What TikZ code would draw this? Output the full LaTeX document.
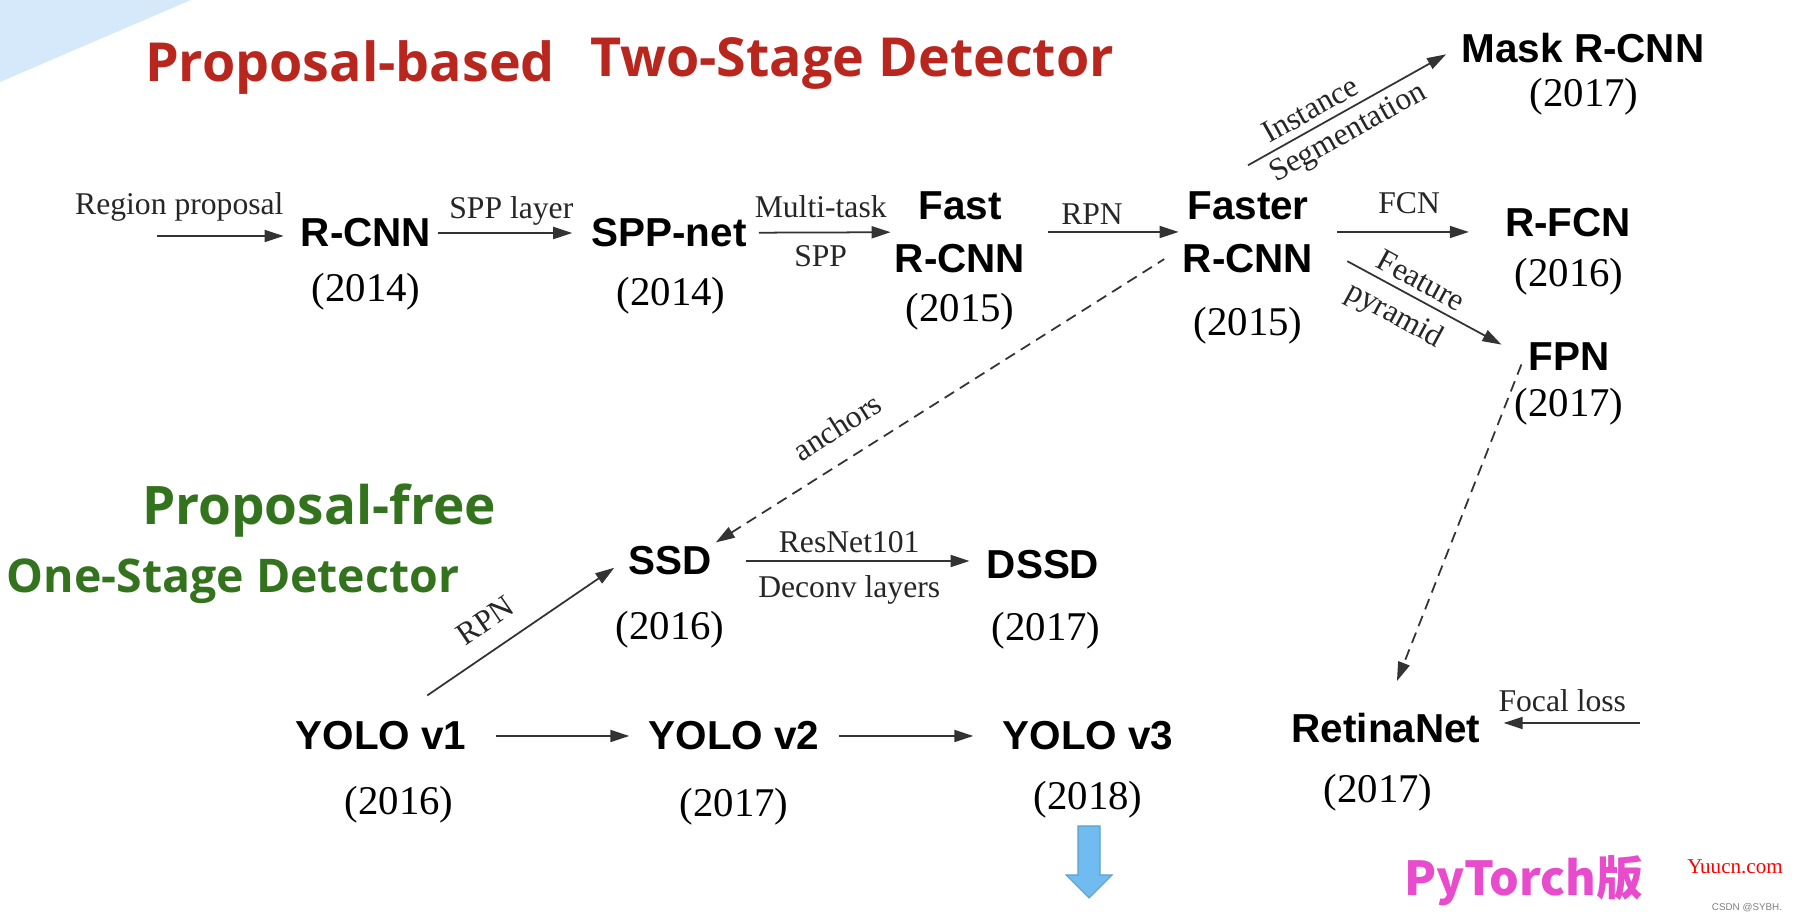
\documentclass[tikz,border=0pt]{standalone}
\usepackage{fontspec}
\setmainfont{Liberation Serif}
\setsansfont{Liberation Sans}
\newfontfamily\titlefont{Open Sans}
\newfontfamily\cjkfont{Noto Sans CJK SC}
\usepackage{xcolor}
\usetikzlibrary{arrows.meta, positioning, calc}
\definecolor{titlered}{RGB}{185,38,30}
\definecolor{titlegreen}{RGB}{52,115,30}
\definecolor{torchpink}{RGB}{232,76,204}
\definecolor{cornerblue}{RGB}{213,233,250}
\definecolor{downblue}{RGB}{112,188,240}
\tikzset{
  method/.style={font=\fontsize{11.5}{15}\selectfont\sffamily\bfseries, align=center, inner sep=1pt},
  year/.style={font=\fontsize{11.6}{14}\selectfont, inner sep=1pt},
  lbl/.style={font=\fontsize{9}{11}\selectfont, text=black!85, inner sep=2pt},
  title/.style={font=\titlefont\bfseries\fontsize{15.3}{18}\selectfont, anchor=base, inner sep=0pt},
  arrow/.style={-{Triangle[length=1.9mm, width=1.2mm]}, line width=0.5pt, black!80},
  darrow/.style={arrow, dash pattern=on 1.1mm off 0.7mm},
  rdarrow/.style={{Triangle[length=1.9mm, width=1.2mm]}-, line width=0.5pt, black!80, dash pattern=on 1.1mm off 0.7mm},
}

\begin{document}
\begin{tikzpicture}[x=0.01cm, y=-0.01cm]
  \useasboundingbox (0,0) rectangle (1796,922);
  \fill[white] (0,0) rectangle (1796,922);
  \fill[cornerblue] (0,0) -- (191,0) -- (0,82) -- cycle;

  % Titles
  \node[title, text=titlered] (tbased) at (350,82) {Proposal-based};
  \node[title, text=titlered] (ttwo) at (852,77) {Two-Stage Detector};
  \node[title, text=titlegreen, font=\titlefont\bfseries\fontsize{15.1}{18}\selectfont] (tfree) at (319,525) {Proposal-free};
  \node[title, text=titlegreen, font=\titlefont\bfseries\fontsize{13.2}{16}\selectfont] (tone) at (233,593) {One-Stage Detector};

  % Two-stage row
  \node[method] (rcnn) at (366,233) {R-CNN};
  \node[year] (rcnnY) at (366,292) {(2014)};
  \node[method] (spp) at (669,233) {SPP-net};
  \node[year] (sppY) at (671,296) {(2014)};
  \node[method] (fast) at (960,232) {Fast\\R-CNN};
  \node[year] (fastY) at (960,312) {(2015)};
  \node[method] (faster) at (1248,232) {Faster\\R-CNN};
  \node[year] (fasterY) at (1248,326) {(2015)};

  % Branches of Faster R-CNN
  \node[method] (mask) at (1583,48) {Mask R-CNN};
  \node[year] (maskY) at (1584,97) {(2017)};
  \node[method] (rfcn) at (1568,223) {R-FCN};
  \node[year] (rfcnY) at (1569,277) {(2016)};
  \node[method] (fpn) at (1569,357) {FPN};
  \node[year] (fpnY) at (1569,407) {(2017)};

  % One-stage detectors
  \node[method] (ssd) at (670,561) {SSD};
  \node[year] (ssdY) at (670,630) {(2016)};
  \node[method] (dssd) at (1043,565) {DSSD};
  \node[year] (dssdY) at (1046,631) {(2017)};
  \node[method] (retina) at (1386,728) {RetinaNet};
  \node[year] (retinaY) at (1378,793) {(2017)};

  \node[method] (yolo1) at (381,736) {YOLO v1};
  \node[year] (yolo1Y) at (399,805) {(2016)};
  \node[method] (yolo2) at (734,736) {YOLO v2};
  \node[year] (yolo2Y) at (734,807) {(2017)};
  \node[method] (yolo3) at (1088,736) {YOLO v3};
  \node[year] (yolo3Y) at (1088,800) {(2018)};

  % Free ends
  \coordinate (rpstart) at (157,236);
  \coordinate (focal) at (1640,723);

  % Arrows, two-stage row
  \draw[arrow, shorten >=1.3mm] (rpstart) -- (rpstart -| rcnn.west)
    node[lbl, pos=0.16, above=2pt] {Region proposal};
  \draw[arrow, shorten <=0.3mm, shorten >=1.5mm] (rcnn) -- (spp)
    node[lbl, midway, above] {SPP layer};
  \draw[arrow, shorten <=0.8mm] (spp) -- (fast)
    node[lbl, midway, above=2pt] {Multi-task}
    node[lbl, midway, below=1.5pt] {SPP};
  \draw[arrow, shorten <=1.9mm] (fast) -- (faster)
    node[lbl, pos=0.42, above] {RPN};
  \draw[arrow, shorten <=2mm, shorten >=3.2mm] (faster) -- (faster -| rfcn.west)
    node[lbl, midway, above=3pt] {FCN};
  \draw[arrow, shorten >=1.3mm] ([yshift=2.2mm]faster.north) -- (mask.west)
    node[lbl, pos=0.34, above, sloped] {Instance}
    node[lbl, pos=0.43, below, sloped] {Segmentation};
  \draw[arrow, shorten <=3.4mm, shorten >=2.6mm] ([yshift=-1.3mm]faster.east) -- (fpn.west)
    node[lbl, pos=0.46, above, sloped] {Feature}
    node[lbl, pos=0.43, below=1pt, sloped] {pyramid};

  % Dashed links
  \draw[rdarrow, shorten >=1.7mm] (ssd.north east) -- ([yshift=-1.8mm]faster.west)
    node[lbl, pos=0.3, above=4pt, sloped] {anchors};
  \draw[darrow, shorten <=0.8mm, shorten >=3mm] (fpn.west) -- (retina.north);

  % Arrows, one-stage
  \draw[arrow, shorten <=3.9mm, shorten >=1.2mm] ([xshift=1.4mm]yolo1.north) -- (ssd.west)
    node[lbl, pos=0.465, above=3pt, sloped] {RPN};
  \draw[arrow, shorten <=3mm, shorten >=1.3mm] (ssd) -- (ssd -| dssd.west)
    node[lbl, midway, above] {ResNet101}
    node[lbl, midway, below=2pt] {Deconv layers};
  \draw[arrow, shorten <=2.5mm, shorten >=1.5mm] (yolo1) -- (yolo2);
  \draw[arrow, shorten <=1.5mm, shorten >=2.5mm] (yolo2) -- (yolo3);
  \draw[arrow, shorten >=1.9mm] (focal) -- (focal -| retina.east)
    node[lbl, midway, above=1pt] {Focal loss};

  % Down arrow under YOLO v3
  \fill[downblue, draw=downblue!85!black, line width=0.3pt]
    (1078,826) -- (1100,826) -- (1100,875) -- (1112,875) -- (1089,898)
    -- (1066,875) -- (1078,875) -- cycle;

  % Marks
  \node[font=\cjkfont\bfseries\fontsize{13.3}{16}\selectfont, text=torchpink, anchor=base] (torch) at (1524,896) {PyTorch版};
  \node[font=\fontsize{6}{7}\selectfont, text=red, inner sep=0pt] (yuucn) at (1735,867) {Yuucn.com};
  \node[font=\sffamily\fontsize{2.8}{3}\selectfont, text=gray, inner sep=0pt] (csdn) at (1747,908) {CSDN @SYBH.};
\end{tikzpicture}
\end{document}
